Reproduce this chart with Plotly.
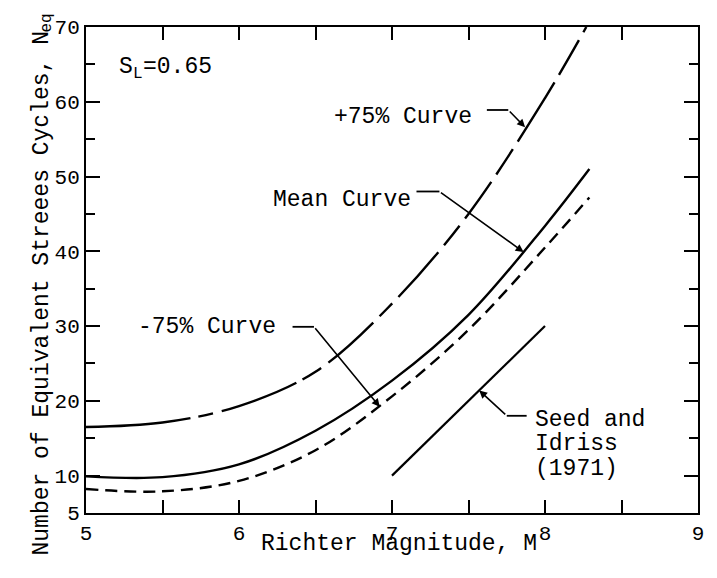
import plotly.graph_objects as go

# ---- data ----
magnitude = [5.0, 5.5, 6.0, 6.5, 7.0, 7.5, 8.0]
plus75_mag = magnitude + [8.27]
plus75_n = [16.5, 17.1, 19.3, 23.9, 33.0, 45.0, 60.5, 70.0]
mean_mag = magnitude + [8.29]
mean_n = [9.9, 9.8, 11.5, 16.0, 22.7, 31.5, 43.4, 51.0]
minus75_mag = magnitude + [8.29]
minus75_n = [8.2, 7.9, 9.3, 13.4, 20.6, 29.5, 40.5, 47.2]
seed_mag = [7.0, 8.0]
seed_n = [10.0, 30.0]

x_ticks = [5, 5.5, 6, 6.5, 7, 7.5, 8, 8.5, 9]
x_ticklabels = ["5", "", "6", "", "7", "", "8", "", "9"]
y_ticks = [5, 10, 20, 30, 40, 50, 60, 70]
y_minor = [15, 25, 35, 45, 55, 65]

FONT = "Liberation Mono, Courier New, monospace"

fig = go.Figure()
fig.add_trace(go.Scatter(x=plus75_mag, y=plus75_n, mode="lines",
                         line=dict(color="black", width=2.4, shape="spline",
                                   dash="105px,8px,15px,9px,80px,7px,22px,9px,60px,9px,18px,9px,60px,9px,25px,9px,45px,9px,30px,9px,70px,9px,40px,9px,60px,9px,40px,9px")))
fig.add_trace(go.Scatter(x=mean_mag, y=mean_n, mode="lines",
                         line=dict(color="black", width=2.4, shape="spline")))
fig.add_trace(go.Scatter(x=minus75_mag, y=minus75_n, mode="lines",
                         line=dict(color="black", width=2.4, shape="spline", dash="12px,7px")))
fig.add_trace(go.Scatter(x=seed_mag, y=seed_n, mode="lines",
                         line=dict(color="black", width=2.2)))

# labels with leaders: (text, text x, text y, xanchor, leader start x, elbow x, elbow y, tip x, tip y)
labels = [
    ("+75% Curve", 7.07, 57.9, "center", 7.62, 7.76, 58.9, 7.87, 56.6),
    ("Mean Curve", 6.67, 46.8, "center", 7.16, 7.31, 48.0, 7.86, 39.9),
    ("-75% Curve", 5.79, 29.9, "center", 6.35, 6.49, 29.9, 6.92, 19.2),
    ("Seed and", 7.92, 17.4, "left", 7.88, 7.75, 18.0, 7.57, 21.4),
]
for text, tx, ty, anchor, sx, ex, ey, px, py in labels:
    fig.add_annotation(x=tx, y=ty, xref="x", yref="y", text=text, showarrow=False,
                       xanchor=anchor, font=dict(family=FONT, size=23, color="black"))
    fig.add_shape(type="line", xref="x", yref="y", x0=sx, y0=ey, x1=ex, y1=ey,
                  line=dict(color="black", width=1.8))
    fig.add_annotation(x=px, y=py, xref="x", yref="y", ax=ex, ay=ey, axref="x", ayref="y",
                       text="", showarrow=True, arrowhead=2, arrowsize=1,
                       arrowwidth=1.6, arrowcolor="black", standoff=0)
for text, ty in [("Idriss", 14.2), ("(1971)", 10.9)]:
    fig.add_annotation(x=7.92, y=ty, xref="x", yref="y", text=text, showarrow=False,
                       xanchor="left", font=dict(family=FONT, size=23, color="black"))

# S_L = 0.65 (subscript set as a smaller, lowered piece)
for text, size, dx, dy in [("S", 23, 0, 0), ("L", 16, 14, -7), ("=0.65", 23, 24, 0)]:
    fig.add_annotation(x=5.2, y=64.6, xref="x", yref="y", xanchor="left", xshift=dx, yshift=dy,
                       text=text, showarrow=False,
                       font=dict(family=FONT, size=size, color="black"))

# axis titles
fig.add_annotation(x=0.5114, y=-0.0947, xref="paper", yref="paper", showarrow=False,
                   text="Richter Magnitude, M",
                   font=dict(family=FONT, size=23, color="black"))
fig.add_annotation(x=-0.0964, y=-0.0926, xref="paper", yref="paper", showarrow=False,
                   textangle=-90, yanchor="bottom",
                   text="Number of Equivalent Streees Cycles, N",
                   font=dict(family=FONT, size=23, color="black"))
fig.add_annotation(x=-0.0817, y=0.9856, xref="paper", yref="paper", showarrow=False,
                   textangle=-90, yanchor="bottom", text="eq",
                   font=dict(family=FONT, size=16, color="black"))

fig.update_layout(
    width=709, height=570,
    margin=dict(l=78, r=19, t=19, b=65),
    paper_bgcolor="white", plot_bgcolor="white",
    showlegend=False,
    font=dict(family=FONT, color="black"),
    xaxis=dict(range=[5, 9], tickvals=x_ticks, ticktext=x_ticklabels,
               ticks="inside", ticklen=13, tickwidth=2, tickcolor="black",
               showline=True, linewidth=2, linecolor="black", mirror="ticks",
               showgrid=False, zeroline=False, automargin=False,
               tickfont=dict(family=FONT, size=21, color="black")),
    yaxis=dict(range=[5, 70], tickvals=y_ticks, ticks="inside", ticklen=14, tickwidth=2,
               tickcolor="black",
               minor=dict(tickvals=y_minor, ticks="inside", ticklen=9, tickwidth=2,
                          tickcolor="black", showgrid=False),
               showline=True, linewidth=2, linecolor="black", mirror="ticks",
               showgrid=False, zeroline=False, automargin=False,
               tickfont=dict(family=FONT, size=21, color="black")),
)

fig.write_html("out.html")
